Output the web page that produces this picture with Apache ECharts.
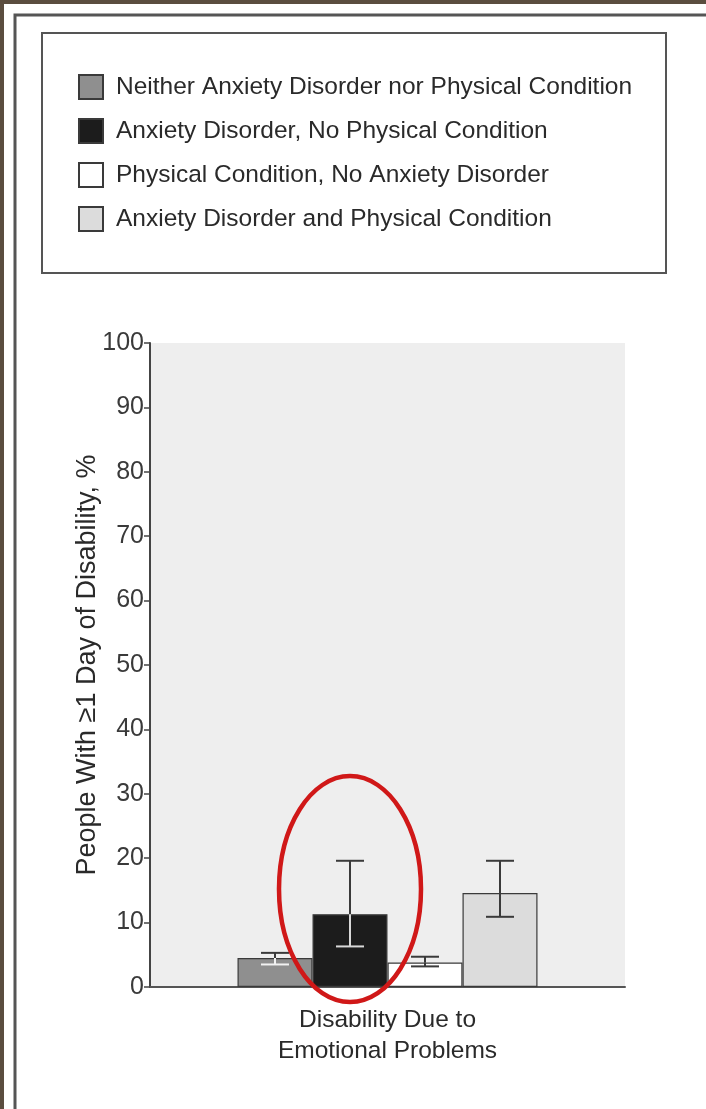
<!DOCTYPE html>
<html>
<head>
<meta charset="utf-8">
<script src="https://cdn.jsdelivr.net/npm/echarts@6/dist/echarts.min.js"></script>
<style>
html,body{margin:0;padding:0;background:#fff;}
#chart{width:706px;height:1109px;}
</style>
</head>
<body>
<div id="chart"></div>
<script>
const categories = ['Disability Due to\nEmotional Problems'];
const seriesNames = [
  'Neither Anxiety Disorder nor Physical Condition',
  'Anxiety Disorder, No Physical Condition',
  'Physical Condition, No Anxiety Disorder',
  'Anxiety Disorder and Physical Condition'
];
const values = [4.5, 11.3, 3.8, 14.6];
const lowerCI = [3.5, 6.3, 3.2, 10.9];
const upperCI = [5.3, 19.6, 4.7, 19.6];
const yTicks = [0, 10, 20, 30, 40, 50, 60, 70, 80, 90, 100];
const highlightSeries = 1;
const highlightValue = 15.2;

const FONT = '"Liberation Sans Narrow", "Arial Narrow", "Liberation Sans", Arial, sans-serif';
const barColors = ['#8f8f8f', '#1c1c1c', '#ffffff', '#dcdcdc'];
const innerErrColors = ['#f2f2f2', '#d8d8d8', '#3a3a3a', '#3a3a3a'];
const BAR_W = 75;

const chart = echarts.init(document.getElementById('chart'), null, {renderer: 'canvas'});

const barSeries = seriesNames.map((name, i) => ({
  name: name,
  type: 'bar',
  barWidth: BAR_W,
  barGap: '0%',
  data: [values[i]],
  itemStyle: {color: barColors[i], borderColor: '#3a3a3a', borderWidth: 1.2},
  emphasis: {disabled: true},
  z: 2
}));

const errData = values.map((v, i) => [0, i, lowerCI[i], upperCI[i], v]);

const errSeries = {
  type: 'custom',
  name: 'err',
  data: errData,
  z: 5,
  silent: true,
  renderItem: function (params, api) {
    const si = api.value(1);
    const lo = api.coord([api.value(0), api.value(2)]);
    const hi = api.coord([api.value(0), api.value(3)]);
    const top = api.coord([api.value(0), api.value(4)]);
    const x = lo[0] + (si - 1.5) * BAR_W;
    const cap = 14;
    const dark = '#3a3a3a';
    const inner = innerErrColors[si];
    return {
      type: 'group',
      children: [
        {type: 'line', shape: {x1: x, y1: hi[1], x2: x, y2: top[1]}, style: {stroke: dark, lineWidth: 2}},
        {type: 'line', shape: {x1: x - cap, y1: hi[1], x2: x + cap, y2: hi[1]}, style: {stroke: dark, lineWidth: 2}},
        {type: 'line', shape: {x1: x, y1: top[1], x2: x, y2: lo[1]}, style: {stroke: inner, lineWidth: 2}},
        {type: 'line', shape: {x1: x - cap, y1: lo[1], x2: x + cap, y2: lo[1]}, style: {stroke: inner, lineWidth: 2}}
      ]
    };
  }
};

const option = {
  animation: false,
  backgroundColor: '#ffffff',
  textStyle: {fontFamily: FONT},
  legend: {
    orient: 'vertical',
    left: 73,
    top: 69,
    icon: 'rect',
    itemWidth: 24,
    itemHeight: 24,
    itemGap: 18,
    selectedMode: false,
    data: seriesNames,
    textStyle: {fontFamily: FONT, fontSize: 24.5, lineHeight: 24, color: '#2a2a2a', padding: [0, 0, 0, 8]}
  },
  grid: {left: 150, right: 81, top: 343, bottom: 122, show: true, backgroundColor: '#eeeeee', borderWidth: 0},
  xAxis: {
    type: 'category',
    data: categories,
    axisLine: {lineStyle: {color: '#555', width: 2}},
    axisTick: {show: false},
    axisLabel: {fontFamily: FONT, fontSize: 24.5, lineHeight: 31, color: '#2a2a2a', margin: 18}
  },
  yAxis: {
    type: 'value',
    min: yTicks[0],
    max: yTicks[yTicks.length - 1],
    interval: yTicks[1] - yTicks[0],
    name: 'People With \u22651 Day of Disability, %',
    nameLocation: 'middle',
    nameGap: 49,
    nameMoveOverlap: false,
    nameTextStyle: {fontFamily: FONT, fontSize: 27, color: '#2a2a2a'},
    axisLine: {show: true, lineStyle: {color: '#444', width: 2}},
    axisTick: {show: true, length: 6, lineStyle: {color: '#444', width: 1.5}},
    axisLabel: {fontFamily: FONT, fontSize: 25, color: '#3a3a3a', margin: 6},
    splitLine: {show: false}
  },
  series: barSeries.concat([errSeries]),
  graphic: [
    {type: 'rect', shape: {x: 0, y: 0, width: 706, height: 4}, style: {fill: '#5b4d3f'}, z: 100},
    {type: 'rect', shape: {x: 0, y: 0, width: 4, height: 1109}, style: {fill: '#5b4d3f'}, z: 100},
    {type: 'polyline', shape: {points: [[15, 1109], [15, 15], [706, 15]]}, style: {stroke: '#555', lineWidth: 3, fill: null}, z: 100},
    {type: 'rect', shape: {x: 42, y: 33, width: 624, height: 240}, style: {stroke: '#555', lineWidth: 2, fill: null}, z: 100}
  ]
};

chart.setOption(option);

// annotation ellipse around the highlighted bar, positioned from the data scale
const centerPx = chart.convertToPixel({gridIndex: 0}, [0, highlightValue]);
const cx = centerPx[0] + (highlightSeries - 1.5) * BAR_W;
chart.setOption({
  graphic: option.graphic.concat([
    {type: 'ellipse', shape: {cx: cx, cy: centerPx[1], rx: 71, ry: 113}, style: {stroke: '#d01818', lineWidth: 4.5, fill: null}, z: 200}
  ])
});
</script>
</body>
</html>
